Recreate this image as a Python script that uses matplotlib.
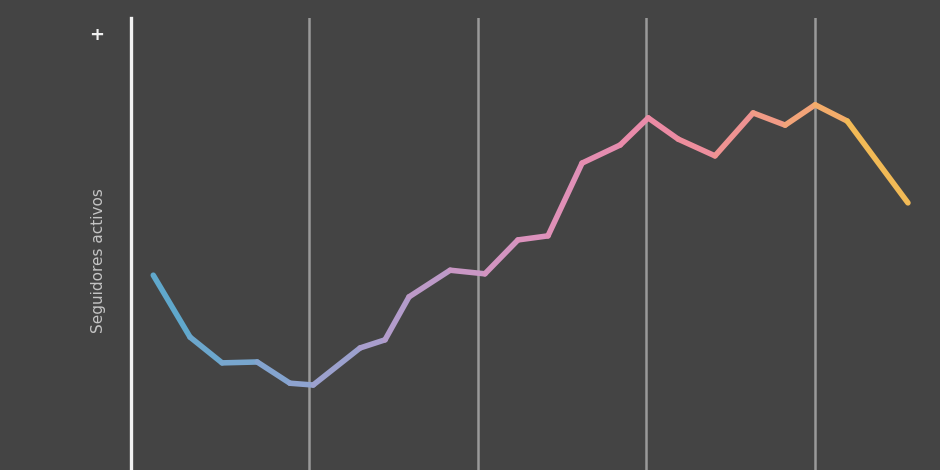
import numpy as np
import matplotlib.pyplot as plt
from matplotlib.collections import LineCollection
from matplotlib.colors import LinearSegmentedColormap

# weeks (5 per gridline interval) and active followers (relative scale)
weeks = [0.38, 1.47, 2.42, 3.46, 4.43, 5.12, 6.51, 7.25, 7.96, 9.18, 10.21,
         11.19, 12.08, 13.09, 14.22, 15.05, 15.94, 17.03, 18.16, 19.11,
         20.0, 20.95, 22.75]
followers = [43.1, 29.4, 23.7, 23.9, 19.2, 18.8, 27.0, 28.8, 38.3, 44.2, 43.4,
             50.9, 51.8, 67.9, 71.9, 77.9, 73.2, 69.5, 79.0, 76.3, 80.8, 77.2,
             59.1]
grid_weeks = [5, 10, 15, 20]
ylabel = 'Seguidores activos'

bg = '#444444'
cmap = LinearSegmentedColormap.from_list(
    'follow', [(0.0, '#5aa9cc'), (0.2, '#8fa3d0'), (0.33, '#b59ccb'),
               (0.5, '#dc92bd'), (0.65, '#ea8aa8'), (0.75, '#ee8f98'),
               (0.85, '#f2a27c'), (0.92, '#f3b062'), (1.0, '#f2c44a')])

fig = plt.figure(figsize=(9.4, 4.7), dpi=100, facecolor=bg)
ax = fig.add_axes([131 / 940, 0, 809 / 940, 452 / 470])
ax.set_facecolor(bg)
ax.set_xlim(-0.28, 23.70)
ax.set_ylim(0, 100)

for g in grid_weeks:
    ax.axvline(g, color='#9a9a9a', lw=1.8, zorder=1)

x = np.array(weeks)
y = np.array(followers)
pts = np.column_stack([x, y]).reshape(-1, 1, 2)
segs = np.concatenate([pts[:-1], pts[1:]], axis=1)
mid = (x[:-1] + x[1:]) / 2
lc = LineCollection(segs, cmap=cmap, linewidths=4.0, capstyle='round',
                    joinstyle='round', zorder=3)
lc.set_array((mid - x.min()) / (x.max() - x.min()))
lc.set_clim(0, 1)
ax.add_collection(lc)

for s in ['top', 'right', 'bottom']:
    ax.spines[s].set_visible(False)
ax.spines['left'].set_color('#f2f2f2')
ax.spines['left'].set_linewidth(2.4)
ax.set_xticks([])
ax.set_yticks([])

fig.text(97 / 940, 1 - 35 / 470, '+', color='#f0f0f0', fontsize=13,
         ha='center', va='center', fontweight='bold')
fig.text(99 / 940, 1 - 261 / 470, ylabel, color='#c4c4c4', fontsize=11,
         rotation=90, ha='center', va='center')

fig.savefig('out.png', dpi=100, facecolor=bg)
